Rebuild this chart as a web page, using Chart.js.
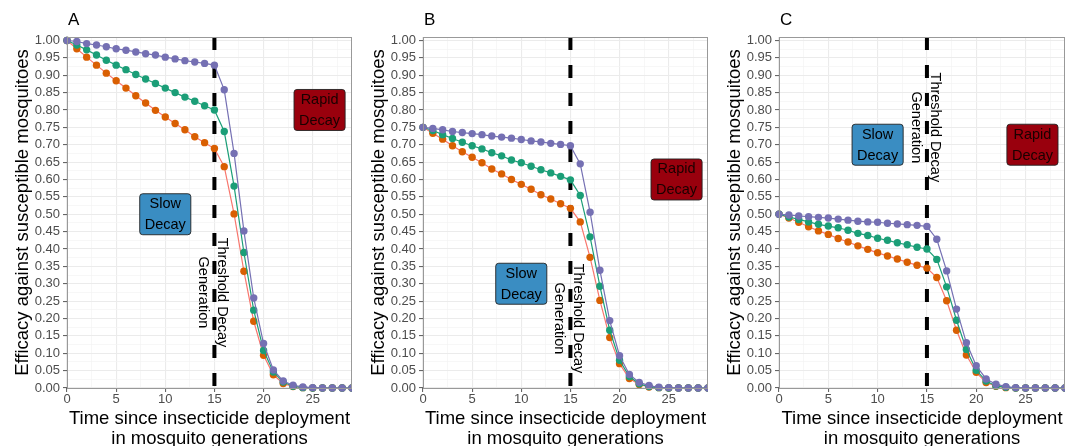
<!DOCTYPE html>
<html>
<head>
<meta charset="utf-8">
<script src="https://cdn.jsdelivr.net/npm/chart.js@4.4.1/dist/chart.umd.min.js"></script>
<style>
  html, body { margin: 0; padding: 0; background: #fff; }
  #wrap { position: relative; width: 1069px; height: 446px; overflow: hidden; }
  canvas { position: absolute; top: 0; }
</style>
</head>
<body>
<div id="wrap">
  <canvas id="cA" width="356" height="446" style="left:0px"></canvas>
  <canvas id="cB" width="356" height="446" style="left:356px"></canvas>
  <canvas id="cC" width="357" height="446" style="left:712px"></canvas>
</div>
<script>
const FONT = "'Liberation Sans', Arial, Helvetica, sans-serif";

// generations since deployment
const gens = [0,1,2,3,4,5,6,7,8,9,10,11,12,13,14,15,16,17,18,19,20,21,22,23,24,25,26,27,28,29,30];

// panel A (start at 1.00)
const purpleA = [1.000,0.997,0.991,0.987,0.982,0.976,0.972,0.967,0.962,0.958,0.952,0.947,0.942,0.938,0.934,0.929,0.858,0.675,0.452,0.259,0.128,0.052,0.020,0.008,0.003,0.001,0,0,0,0,0];
const greenA  = [1.000,0.987,0.973,0.958,0.943,0.929,0.916,0.902,0.889,0.876,0.863,0.850,0.837,0.825,0.812,0.800,0.738,0.581,0.390,0.224,0.108,0.046,0.017,0.005,0.001,0,0,0,0,0,0];
const orangeA = [1.000,0.976,0.952,0.929,0.906,0.884,0.863,0.841,0.820,0.799,0.780,0.761,0.743,0.723,0.706,0.689,0.637,0.501,0.336,0.192,0.094,0.038,0.013,0.004,0.001,0,0,0,0,0,0];

// panel B (start at 0.75)
const purpleB = [0.750,0.747,0.743,0.738,0.735,0.732,0.729,0.725,0.722,0.719,0.715,0.711,0.708,0.704,0.701,0.697,0.645,0.506,0.339,0.194,0.093,0.039,0.016,0.007,0.002,0.001,0,0,0,0,0];
const greenB  = [0.750,0.741,0.729,0.718,0.707,0.697,0.688,0.677,0.668,0.656,0.648,0.638,0.628,0.619,0.609,0.599,0.554,0.435,0.293,0.166,0.080,0.033,0.012,0.004,0.001,0,0,0,0,0,0];
const orangeB = [0.750,0.733,0.716,0.697,0.680,0.664,0.648,0.630,0.616,0.600,0.586,0.572,0.556,0.544,0.530,0.517,0.478,0.376,0.252,0.145,0.070,0.027,0.010,0.003,0.001,0,0,0,0,0,0];

// panel C (start at 0.50)
const purpleC = [0.500,0.498,0.495,0.493,0.491,0.489,0.486,0.483,0.480,0.478,0.477,0.474,0.472,0.470,0.468,0.465,0.428,0.337,0.227,0.130,0.064,0.026,0.011,0.004,0.001,0,0,0,0,0,0];
const greenC  = [0.500,0.492,0.485,0.478,0.471,0.466,0.461,0.454,0.445,0.439,0.431,0.425,0.418,0.412,0.405,0.400,0.370,0.291,0.195,0.111,0.051,0.020,0.006,0.002,0,0,0,0,0,0,0];
const orangeC = [0.500,0.489,0.477,0.464,0.452,0.442,0.430,0.420,0.409,0.399,0.389,0.380,0.371,0.362,0.353,0.345,0.318,0.251,0.166,0.095,0.045,0.016,0.005,0.001,0,0,0,0,0,0,0];

// axis ticks (labelled); minor grid lines sit half-way between
const xTicks = [0,5,10,15,20,25];
const yTicks = [0,0.05,0.10,0.15,0.20,0.25,0.30,0.35,0.40,0.45,0.50,0.55,0.60,0.65,0.70,0.75,0.80,0.85,0.90,0.95,1.00];

const thresholdGen = 15;
const xTitle = ['Time since insecticide deployment', 'in mosquito generations'];
const yTitle = 'Efficacy against susceptible mosquitoes';

// label positions [x, y] per panel
const slowA = [10, 0.50],  rapidA = [25.7, 0.80], threshTextA = 0.275;
const slowB = [10, 0.30],  rapidB = [25.8, 0.60], threshTextB = 0.20;
const slowC = [10, 0.70],  rapidC = [25.7, 0.70], threshTextC = 0.75;

function withHalves(list){
  let out = [];
  for (let i = 0; i < list.length; i++){
    out.push(list[i]);
    if (i < list.length - 1) out.push((list[i] + list[i+1]) / 2);
  }
  return out;
}

function ds(vals, ptColor, lnColor){
  return {
    data: vals.map((v, i) => ({x: gens[i], y: v})),
    borderColor: lnColor,
    borderWidth: 1.2,
    backgroundColor: ptColor,
    pointBackgroundColor: ptColor,
    pointBorderColor: ptColor,
    pointBorderWidth: 0,
    pointRadius: 3.7,
    tension: 0,
    clip: {left: 6, top: 6, right: 0, bottom: 6}
  };
}

function labelBox(ctx, cx, cy, lines, fill, textColor){
  ctx.save();
  ctx.font = '14.5px ' + FONT;
  const w = Math.max(...lines.map(t => ctx.measureText(t).width)) + 10;
  const h = 41;
  ctx.beginPath();
  ctx.roundRect(cx - w/2, cy - h/2, w, h, 3);
  ctx.fillStyle = fill;
  ctx.fill();
  ctx.lineWidth = 0.9;
  ctx.strokeStyle = '#222';
  ctx.stroke();
  ctx.fillStyle = textColor;
  ctx.textAlign = 'center';
  ctx.textBaseline = 'middle';
  ctx.fillText(lines[0], cx, cy - 10);
  ctx.fillText(lines[1], cx, cy + 11);
  ctx.restore();
}

const decorations = {
  id: 'decorations',
  beforeDatasetsDraw(chart, args, o){
    const {ctx, chartArea: a, scales: {x}} = chart;
    const px = x.getPixelForValue(thresholdGen);
    ctx.save();
    ctx.strokeStyle = '#000';
    ctx.lineWidth = 4;
    ctx.setLineDash([13, 15]);
    ctx.beginPath();
    ctx.moveTo(px, a.top);
    ctx.lineTo(px, a.bottom);
    ctx.stroke();
    ctx.restore();
  },
  afterDraw(chart, args, o){
    const {ctx, chartArea: a, scales: {x, y}} = chart;
    // panel border
    ctx.save();
    ctx.strokeStyle = '#999';
    ctx.lineWidth = 1;
    ctx.strokeRect(a.left + 0.5, a.top + 0.5, a.right - a.left - 1, a.bottom - a.top);
    ctx.restore();

    // panel letter
    ctx.save();
    ctx.font = '17px ' + FONT;
    ctx.fillStyle = '#000';
    ctx.textBaseline = 'middle';
    ctx.fillText(o.letter, a.left + 1, 20);
    ctx.restore();

    labelBox(ctx, x.getPixelForValue(o.slow[0]), y.getPixelForValue(o.slow[1]), ['Slow', 'Decay'], '#3A8DC2', '#000');
    labelBox(ctx, x.getPixelForValue(o.rapid[0]), y.getPixelForValue(o.rapid[1]), ['Rapid', 'Decay'], '#99000D', '#1a0000');

    // rotated threshold text
    ctx.save();
    ctx.translate(x.getPixelForValue(thresholdGen) - 1.5, y.getPixelForValue(o.thresh));
    ctx.rotate(Math.PI / 2);
    ctx.font = '14.5px ' + FONT;
    ctx.fillStyle = '#000';
    ctx.textAlign = 'center';
    ctx.textBaseline = 'middle';
    ctx.fillText('Threshold Decay', 0, -9.5);
    ctx.fillText('Generation', 0, 9.5);
    ctx.restore();
  }
};

function makePanel(id, letter, purple, green, orange, slow, rapid, thresh){
  return new Chart(document.getElementById(id), {
    type: 'line',
    data: {
      datasets: [
        ds(purple, '#7570B3', '#7570B3'),
        ds(green,  '#1B9E77', '#1B9E77'),
        ds(orange, '#D95F02', '#F8766D')
      ]
    },
    plugins: [decorations],
    options: {
      responsive: false,
      animation: false,
      layout: {padding: {top: 37, right: 3, left: 0, bottom: 0}},
      plugins: {
        legend: {display: false},
        tooltip: {enabled: false},
        decorations: {letter, slow, rapid, thresh}
      },
      scales: {
        x: {
          type: 'linear', min: 0, max: 29,
          afterBuildTicks: s => { s.ticks = withHalves(xTicks).concat([27.5]).map(v => ({value: v})); },
          afterFit: s => { s.height = 58; },
          ticks: {
            autoSkip: false, maxRotation: 0, padding: 0,
            color: '#4D4D4D', font: {family: FONT, size: 13},
            callback: (v, i) => i % 2 === 0 ? String(v) : ''
          },
          grid: {
            color: c => c.index % 2 === 0 ? '#EBEBEB' : '#F3F3F3',
            lineWidth: c => c.index % 2 === 0 ? 1.1 : 0.7,
            tickLength: 4,
            tickColor: c => c.index % 2 === 0 ? '#666' : 'rgba(0,0,0,0)'
          },
          border: {display: false},
          title: {
            display: true, text: xTitle, color: '#000',
            font: {family: FONT, size: 18.5, lineHeight: 1.08},
            padding: {top: 0, bottom: -3}
          }
        },
        y: {
          type: 'linear', min: 0, max: 1.01,
          afterBuildTicks: s => { s.ticks = withHalves(yTicks).map(v => ({value: v})); },
          afterFit: s => { s.width = 67; },
          ticks: {
            autoSkip: false, padding: 3,
            color: '#4D4D4D', font: {family: FONT, size: 13},
            callback: (v, i) => i % 2 === 0 ? v.toFixed(2) : ''
          },
          grid: {
            color: c => c.index % 2 === 0 ? '#EBEBEB' : '#F3F3F3',
            lineWidth: c => c.index % 2 === 0 ? 1.1 : 0.7,
            tickLength: 4,
            tickColor: c => c.index % 2 === 0 ? '#666' : 'rgba(0,0,0,0)'
          },
          border: {display: false},
          title: {
            display: true, text: yTitle, color: '#000',
            font: {family: FONT, size: 18.5},
            padding: {top: 12, bottom: 0}
          }
        }
      }
    }
  });
}

makePanel('cA', 'A', purpleA, greenA, orangeA, slowA, rapidA, threshTextA);
makePanel('cB', 'B', purpleB, greenB, orangeB, slowB, rapidB, threshTextB);
makePanel('cC', 'C', purpleC, greenC, orangeC, slowC, rapidC, threshTextC);
</script>
</body>
</html>
